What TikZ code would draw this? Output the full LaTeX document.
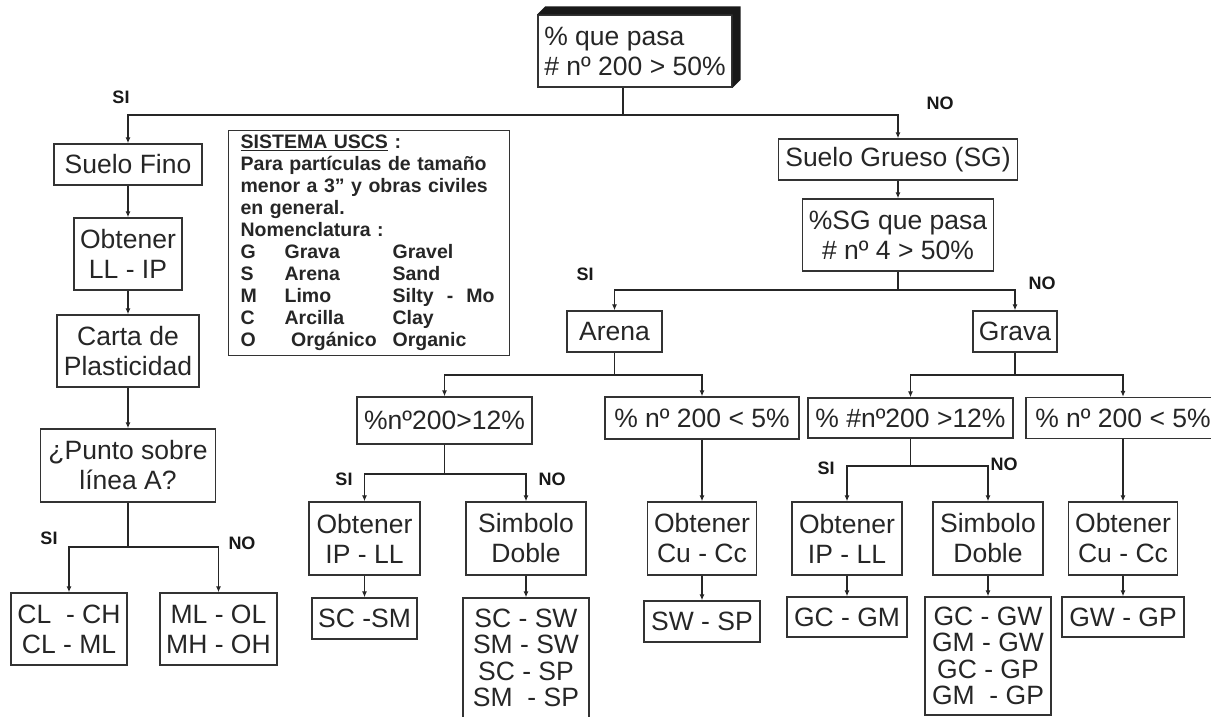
\documentclass[tikz,border=0pt]{standalone}
\usepackage{fontspec}
\setmainfont{Liberation Sans}
\usepackage{tikz}
\usetikzlibrary{arrows.meta}

\begin{document}
\begin{tikzpicture}[
    x=1pt, y=-1pt,
    box/.style={draw=black!80, line width=1.3pt, fill=white, inner sep=0pt,
        align=center, text=black!85, font=\fontsize{26.5}{30}\selectfont},
    tall/.style={box, font=\fontsize{26.5}{26.5}\selectfont},
    legend/.style={draw=black!80, line width=1.3pt, inner xsep=12pt, inner ysep=4pt, align=left,
        text=black!85, font=\fontsize{19.5}{22}\selectfont\bfseries},
    lbl/.style={text=black!90, font=\fontsize{18}{20}\selectfont\bfseries},
    line/.style={line width=1.8pt, black!85},
    arr/.style={line, -{Latex[length=6pt,width=5pt]}}
]
    \useasboundingbox (0,0) rectangle (1211,717);

    % Root question with 3D shadow
    \node[box, align=left, minimum width=194pt, minimum height=72pt] (root) at (635,51)
        {\% que pasa\\\# nº 200 > 50\%};
    \fill[black!90] (root.north west) -- ++(8,-8) -| ([xshift=8pt,yshift=8pt]root.south east)
        -- (root.south east) -- (root.north east) -- cycle;

    % Fine soil branch
    \node[box, minimum width=148pt, minimum height=41pt] (fino) at (128,164.5) {Suelo Fino};
    \node[box, minimum width=108pt, minimum height=72pt] (llip) at (128,254) {Obtener\\LL - IP};
    \node[box, minimum width=142pt, minimum height=72pt] (carta) at (128,351) {Carta de\\Plasticidad};
    \node[box, minimum width=175pt, minimum height=73pt] (punto) at (128,465.5) {¿Punto sobre\\línea A?};
    \node[box, minimum width=116pt, minimum height=72pt] (clch) at (69,629) {CL\ \ - CH\\CL - ML};
    \node[box, minimum width=117pt, minimum height=72pt] (mlol) at (218.5,629) {ML - OL\\MH - OH};

    % USCS legend
    \node[legend, anchor=north west, minimum width=281pt, minimum height=225pt, text width=257pt] (uscs) at (228,130)
        {\underline{SISTEMA USCS} :\\
         Para partículas de tamaño\\
         menor a 3” y obras civiles\\
         en general.\\
         Nomenclatura :\\
         \makebox[44pt][l]{G}\makebox[108pt][l]{Grava}Gravel\\
         \makebox[44pt][l]{S}\makebox[108pt][l]{Arena}Sand\\
         \makebox[44pt][l]{M}\makebox[108pt][l]{Limo}Silty\ \ -\ \ Mo\\
         \makebox[44pt][l]{C}\makebox[108pt][l]{Arcilla}Clay\\
         \makebox[44pt][l]{O}\makebox[108pt][l]{\ Orgánico}Organic};

    % Coarse soil branch
    \node[box, minimum width=239pt, minimum height=41pt] (grueso) at (898,159.5) {Suelo Grueso (SG)};
    \node[box, minimum width=191pt, minimum height=72pt] (sg) at (898,235) {\%SG que pasa\\\# nº 4 > 50\%};
    \node[box, minimum width=95pt, minimum height=41pt] (arena) at (614.5,331.5) {Arena};
    \node[box, minimum width=84pt, minimum height=41pt] (grava) at (1015,331.5) {Grava};

    % Sand
    \node[box, minimum width=175pt, minimum height=47pt] (a12) at (444.5,420.5) {\%nº200>12\%};
    \node[box, minimum width=194pt, minimum height=42pt] (a5) at (702,418) {\% nº 200 < 5\%};
    \node[box, minimum width=111pt, minimum height=73pt] (aip) at (364.5,538.5) {Obtener\\IP - LL};
    \node[box, minimum width=120pt, minimum height=73pt] (adob) at (526,538.5) {Simbolo\\Doble};
    \node[box, minimum width=109pt, minimum height=73pt] (acu) at (702,538.5) {Obtener\\Cu - Cc};
    \node[box, minimum width=105pt, minimum height=41pt] (scsm) at (364.5,618.5) {SC -SM};
    \node[tall, minimum width=126pt, minimum height=120pt] (scsw) at (526,658)
        {SC - SW\\SM - SW\\SC - SP\\SM\ \ - SP};
    \node[box, minimum width=116pt, minimum height=41pt] (swsp) at (702,621.5) {SW - SP};

    % Gravel
    \node[box, minimum width=205pt, minimum height=40pt] (g12) at (910.5,418) {\% \#nº200 >12\%};
    \node[box, minimum width=194pt, minimum height=41pt] (g5) at (1123,418) {\% nº 200 < 5\%};
    \node[box, minimum width=110pt, minimum height=73pt] (gip) at (847,538.5) {Obtener\\IP - LL};
    \node[box, minimum width=110pt, minimum height=73pt] (gdob) at (988,538.5) {Simbolo\\Doble};
    \node[box, minimum width=109pt, minimum height=73pt] (gcu) at (1123,538.5) {Obtener\\Cu - Cc};
    \node[box, minimum width=120pt, minimum height=40pt] (gcgm) at (847,617) {GC - GM};
    \node[tall, minimum width=126pt, minimum height=118pt] (gcgw) at (988,656)
        {GC - GW\\GM - GW\\GC - GP\\GM\ \ - GP};
    \node[box, minimum width=122pt, minimum height=40pt] (gwgp) at (1123,617) {GW - GP};

    % Junctions
    \coordinate (j0) at (623,115);
    \coordinate (j1) at (128,547);
    \coordinate (j2) at (898,290);
    \coordinate (j3) at (614.5,375);
    \coordinate (j4) at (1015,375);
    \coordinate (j5) at (444.5,474);
    \coordinate (j6) at (910.5,466);

    % Connectors
    \draw[line] (root.south -| j0) -- (j0);
    \draw[arr] (j0) -| (fino.north);
    \draw[arr] (j0) -| (grueso.north);

    \draw[arr] (fino.south) -- (llip.north);
    \draw[arr] (llip.south) -- (carta.north);
    \draw[arr] (carta.south) -- (punto.north);
    \draw[line] (punto.south) -- (j1);
    \draw[arr] (j1) -| (clch.north);
    \draw[arr] (j1) -| (mlol.north);

    \draw[arr] (grueso.south) -- (sg.north);
    \draw[line] (sg.south) -- (j2);
    \draw[arr] (j2) -| (arena.north);
    \draw[arr] (j2) -| (grava.north);

    \draw[line] (arena.south) -- (j3);
    \draw[arr] (j3) -| (a12.north);
    \draw[arr] (j3) -| (a5.north);
    \draw[line] (grava.south) -- (j4);
    \draw[arr] (j4) -| (g12.north);
    \draw[arr] (j4) -| (g5.north);

    \draw[line] (a12.south) -- (j5);
    \draw[arr] (j5) -| (aip.north);
    \draw[arr] (j5) -| (adob.north);
    \draw[arr] (a5.south) -- (acu.north);
    \draw[line] (g12.south) -- (j6);
    \draw[arr] (j6) -| (gip.north);
    \draw[arr] (j6) -| (gdob.north);
    \draw[arr] (g5.south) -- (gcu.north);

    \draw[arr] (aip.south) -- (scsm.north);
    \draw[arr] (adob.south) -- (scsw.north);
    \draw[arr] (acu.south) -- (swsp.north);
    \draw[arr] (gip.south) -- (gcgm.north);
    \draw[arr] (gdob.south) -- (gcgw.north);
    \draw[arr] (gcu.south) -- (gwgp.north);

    % SI / NO labels
    \node[lbl] (si0) at (121,97) {SI};
    \node[lbl] (no0) at (940,103) {NO};
    \node[lbl] (si1) at (49,538) {SI};
    \node[lbl] (no1) at (242,543) {NO};
    \node[lbl] (si2) at (585,274) {SI};
    \node[lbl] (no2) at (1042,283) {NO};
    \node[lbl] (si3) at (344,479) {SI};
    \node[lbl] (no3) at (552,479) {NO};
    \node[lbl] (si4) at (826,468) {SI};
    \node[lbl] (no4) at (1004,464) {NO};

\end{tikzpicture}
\end{document}
